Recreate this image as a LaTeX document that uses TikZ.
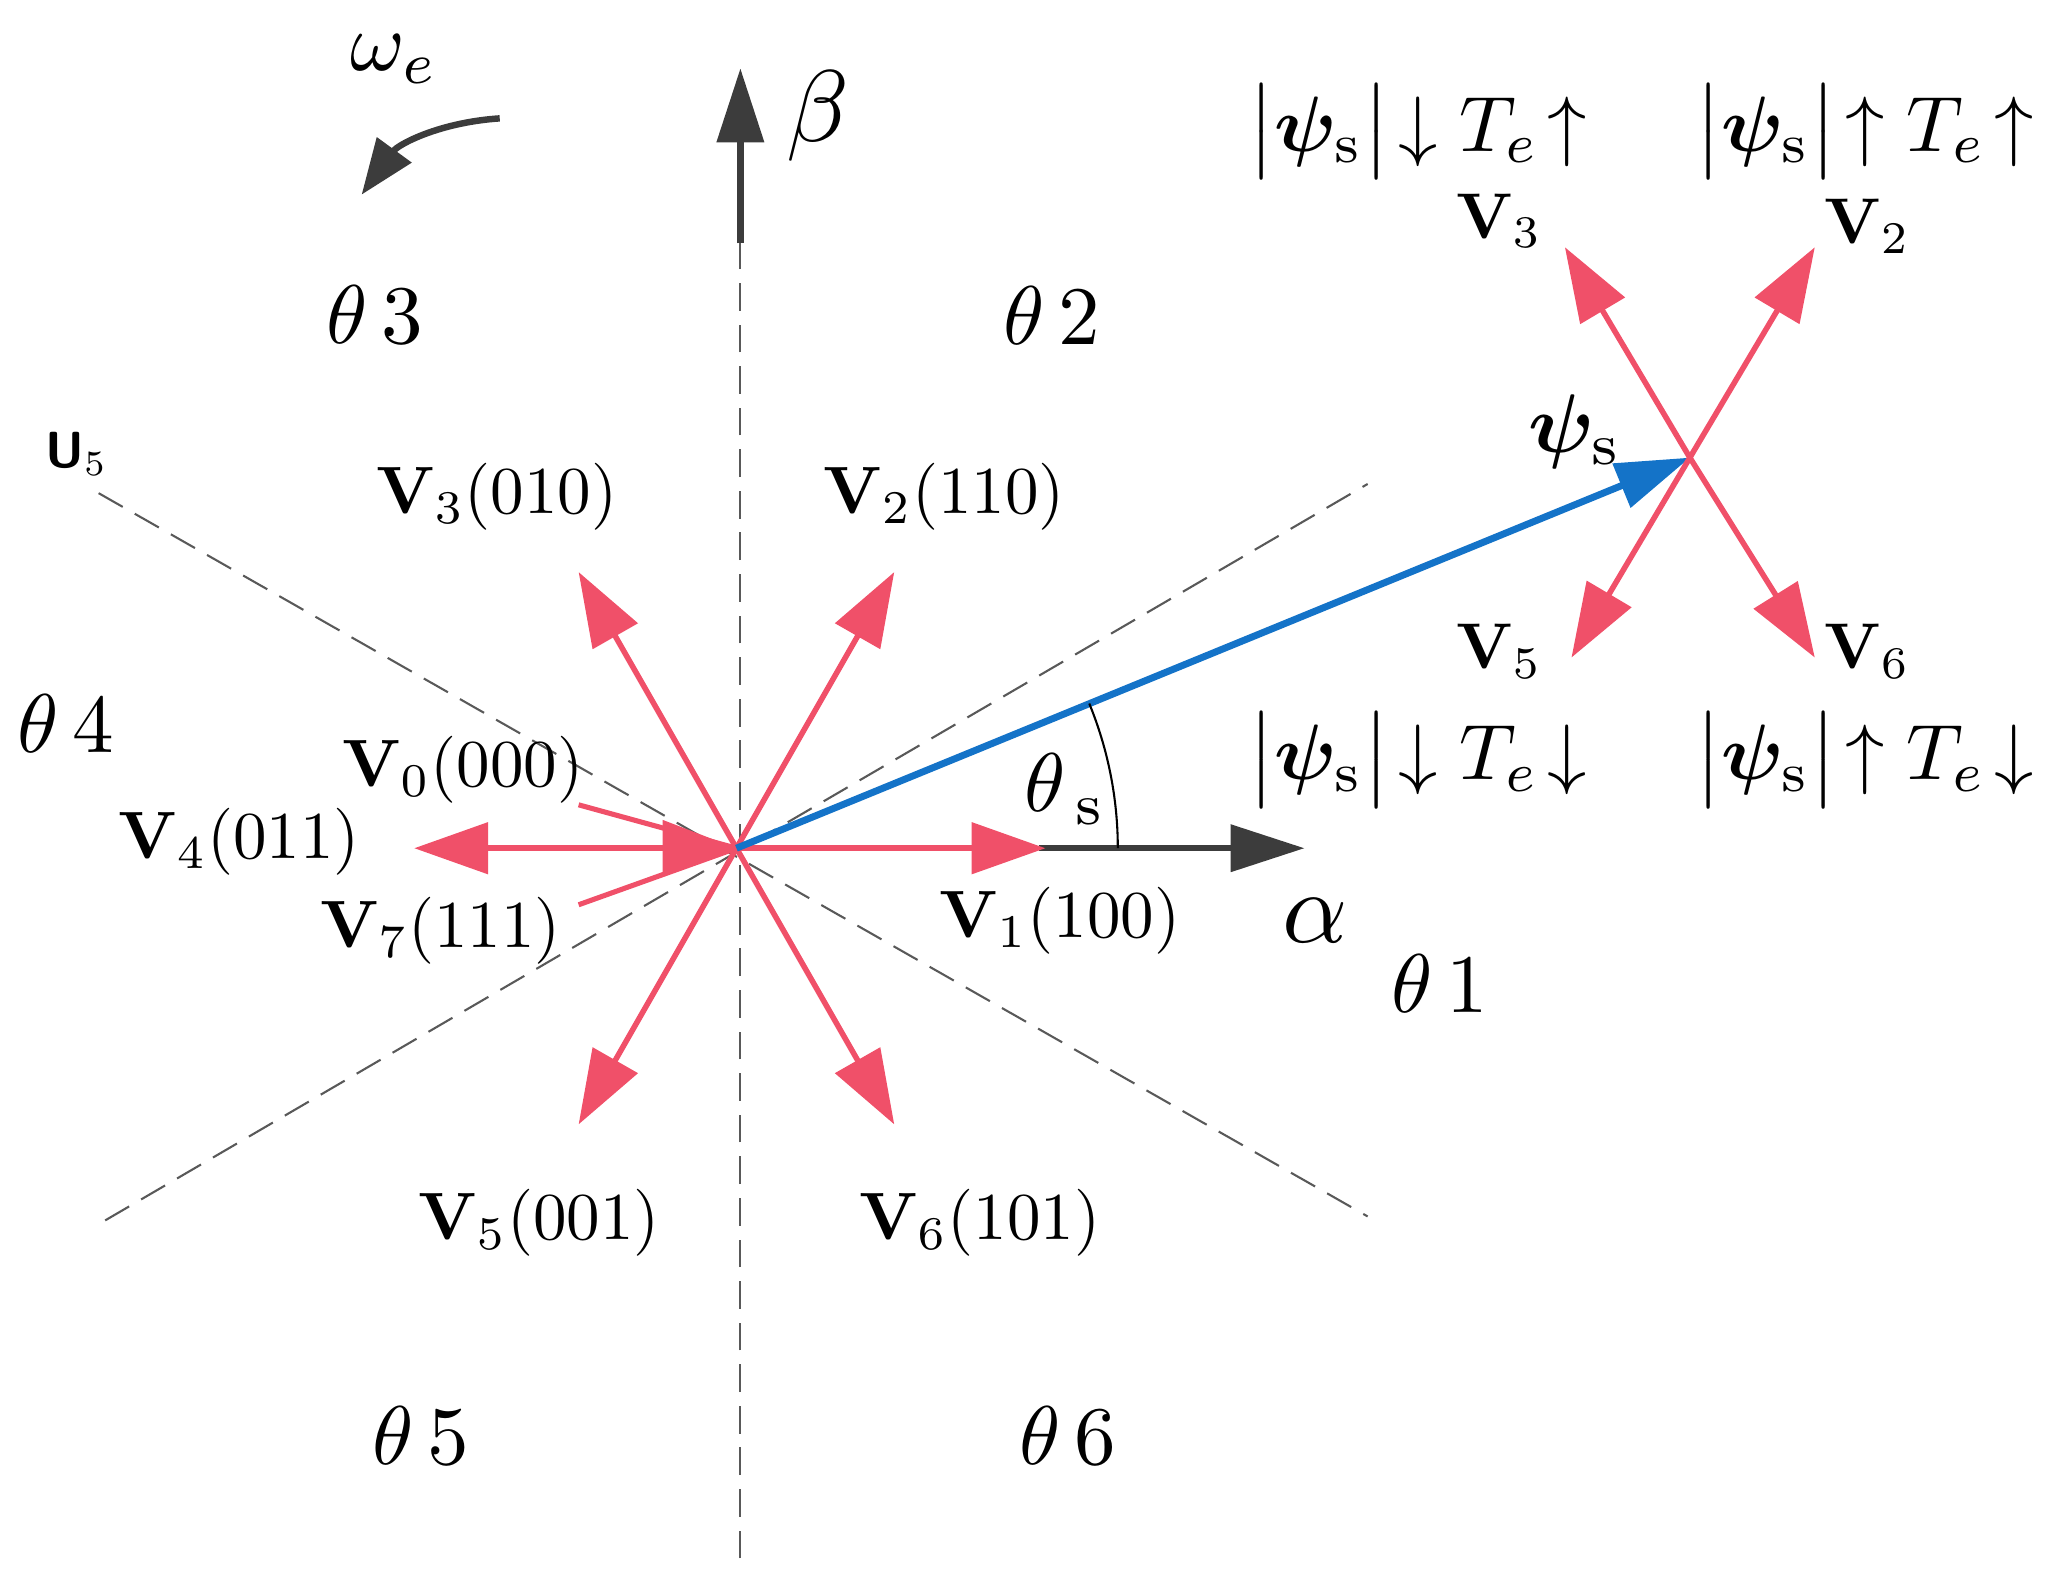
\documentclass[tikz,border=0pt]{standalone}
\usepackage{amsmath,bm}
\usetikzlibrary{arrows.meta}
\definecolor{vred}{RGB}{240,80,105}
\definecolor{vblue}{RGB}{20,115,200}
\definecolor{ax}{RGB}{60,60,60}
\newcommand\sx[2]{\scalebox{#1}{#2}}
\begin{document}
\begin{tikzpicture}[x=0.02cm,y=-0.02cm,
  vec/.style={vred,line width=2.4pt,-{Triangle[length=32pt,width=22pt]}},
  dsh/.style={dash pattern=on 12pt off 6pt,gray!70!black,line width=0.9pt},
  lab/.style={inner sep=0pt}]
\useasboundingbox (0,0) rectangle (1568,1194);
\coordinate (O) at (560,645);
\coordinate (C) at (1285,348);
% axes
\draw[dsh] (563,1185) -- (563,185);
\draw[ax,line width=2.8pt,-{Triangle[length=32pt,width=20pt]}] (563,185) -- (563,52);
\draw[dsh] (75,375) -- (1040,925);
\draw[dsh] (80,928) -- (1040,368);
\draw[ax,line width=2.8pt,-{Triangle[length=32pt,width=20pt]}] (790,645) -- (992,645);
% vectors
\foreach \p in {(680,435),(440,435),(440,855),(680,855),(315,645),(795,645)}
  \draw[vec] (O) -- \p;
\draw[vred,line width=2.2pt] (440,612) -- (O);
\draw[vred,line width=2.2pt] (440,688) -- (O);
\draw[vred,line width=2.2pt,-{Triangle[length=32pt,width=24pt]}] (480,645) -- (O);
\draw[vblue,line width=3pt,-{Triangle[length=32pt,width=20pt]}] (O) -- (C);
\draw[line width=0.9pt] (850,645) arc[start angle=0,end angle=-22.3,radius=290];
\foreach \p in {(1380,188),(1190,188),(1195,500),(1380,500)}
  \draw[vec] (C) -- \p;
% omega
\draw[ax,line width=2.8pt,-{Triangle[length=24pt,width=18pt]}] (380,90) to[bend right=25] (275,148);
\node[lab] (om) at (300,45) {\sx{3.6}{$\omega_e$}};
\node[lab] (be) at (622,88) {\sx{4.4}{$\beta$}};
\node[lab] (al) at (1000,700) {\sx{4.4}{$\alpha$}};
% theta regions
\node[lab] (t1) at (1095,748) {\sx{3.6}{$\theta$\,1}};
\node[lab] (t2) at (800,240) {\sx{3.6}{$\theta$\,2}};
\node[lab] (t3) at (285,240) {\sx{3.6}{$\theta$\,3}};
\node[lab] (t4) at (50,550) {\sx{3.6}{$\theta$\,4}};
\node[lab] (t5) at (320,1092) {\sx{3.6}{$\theta$\,5}};
\node[lab] (t6) at (812,1092) {\sx{3.6}{$\theta$\,6}};
\node[lab] (ts) at (810,600) {\sx{3.6}{$\theta_{\,\mathrm{s}}$}};
\node[lab] (u5) at (58,345) {\sx{2.2}{\sffamily\bfseries U$_5$}};
% vector labels
\node[lab] at (378,378) {\sx{2.9}{$\mathbf{V}_3(010)$}};
\node[lab] at (718,378) {\sx{2.9}{$\mathbf{V}_2(110)$}};
\node[lab] at (352,585) {\sx{2.9}{$\mathbf{V}_0(000)$}};
\node[lab] at (182,640) {\sx{2.9}{$\mathbf{V}_4(011)$}};
\node[lab] at (335,708) {\sx{2.9}{$\mathbf{V}_7(111)$}};
\node[lab] at (806,700) {\sx{2.9}{$\mathbf{V}_1(100)$}};
\node[lab] at (410,930) {\sx{2.9}{$\mathbf{V}_5(001)$}};
\node[lab] at (745,930) {\sx{2.9}{$\mathbf{V}_6(101)$}};
% right cluster
\node[lab] at (1198,328) {\sx{3.6}{$\bm{\psi}_{\mathrm{s}}$}};
\node[lab] at (1140,168) {\sx{2.8}{$\mathbf{V}_3$}};
\node[lab] at (1420,172) {\sx{2.8}{$\mathbf{V}_2$}};
\node[lab] at (1140,495) {\sx{2.8}{$\mathbf{V}_5$}};
\node[lab] at (1420,495) {\sx{2.8}{$\mathbf{V}_6$}};
\node[lab] at (1078,100) {\sx{3.4}{$\bigl|\bm{\psi}_{\mathrm{s}}\bigr|\!\downarrow T_e\!\uparrow$}};
\node[lab] at (1418,100) {\sx{3.4}{$\bigl|\bm{\psi}_{\mathrm{s}}\bigr|\!\uparrow T_e\!\uparrow$}};
\node[lab] at (1078,578) {\sx{3.4}{$\bigl|\bm{\psi}_{\mathrm{s}}\bigr|\!\downarrow T_e\!\downarrow$}};
\node[lab] at (1418,578) {\sx{3.4}{$\bigl|\bm{\psi}_{\mathrm{s}}\bigr|\!\uparrow T_e\!\downarrow$}};
\end{tikzpicture}
\end{document}
